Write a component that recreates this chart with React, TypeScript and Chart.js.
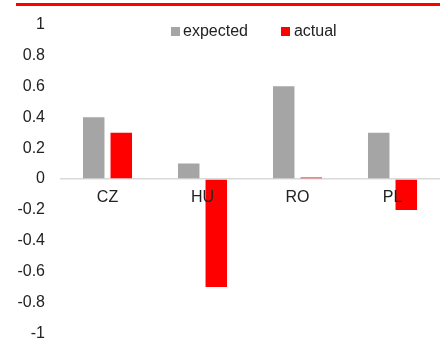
import React, { useEffect, useRef } from "react";
import { Chart, registerables } from "chart.js";

Chart.register(...registerables);

const categories = ["CZ", "HU", "RO", "PL"];
const expectedValues = [0.4, 0.1, 0.6, 0.3];
const actualValues = [0.3, -0.7, 0.01, -0.2];
const seriesNames = ["expected", "actual"];
const seriesColors = ["#A5A5A5", "#FF0000"];
const yMin = -1;
const yMax = 1;
const yStep = 0.2;

const FONT = '"Liberation Sans", Arial, Helvetica, sans-serif';
const TEXT = "#222222";

export default function App() {
  const ref = useRef<HTMLCanvasElement>(null);

  useEffect(() => {
    if (!ref.current) return;
    const chart = new Chart(ref.current, {
      type: "bar",
      data: {
        labels: categories,
        datasets: [
          {
            label: seriesNames[0],
            data: expectedValues,
            backgroundColor: seriesColors[0],
            categoryPercentage: 0.58,
            barPercentage: 0.78,
          },
          {
            label: seriesNames[1],
            data: actualValues,
            backgroundColor: seriesColors[1],
            categoryPercentage: 0.58,
            barPercentage: 0.78,
          },
        ],
      },
      options: {
        animation: false,
        responsive: false,
        maintainAspectRatio: false,
        layout: { padding: { top: 8, right: 0, bottom: 0, left: 0 } },
        plugins: {
          legend: { display: false },
          tooltip: { enabled: false },
        },
        scales: {
          x: {
            position: { y: 0 },
            grid: { display: false, drawTicks: false },
            border: { display: false },
            ticks: {
              z: 1,
              color: TEXT,
              font: { family: FONT, size: 16 },
              padding: 9,
            },
          },
          y: {
            min: yMin,
            max: yMax,
            grid: {
              color: (ctx: any) =>
                ctx.tick && Math.abs(ctx.tick.value) < 1e-9 ? "#D9D9D9" : "rgba(0,0,0,0)",
              lineWidth: 1.5,
              drawTicks: false,
            },
            border: { display: false },
            ticks: {
              stepSize: yStep,
              color: TEXT,
              font: { family: FONT, size: 16 },
              padding: 15,
              callback: (v: any) => String(Number(Number(v).toFixed(1))),
            },
            afterFit: (s: any) => {
              s.width = 60;
            },
          },
        },
      },
    });
    return () => chart.destroy();
  }, []);

  return (
    <div style={{ position: "fixed", left: 0, top: 0, width: 440, height: 358, background: "#fff" }}>
      <canvas ref={ref} width={440} height={358} style={{ display: "block" }} />
      <div style={{ position: "absolute", left: 16, top: 3, width: 424, height: 3, background: "#FF0000" }} />
      <div
        style={{
          position: "absolute",
          left: 171,
          top: 21,
          display: "flex",
          alignItems: "center",
          fontFamily: FONT,
          fontSize: 16,
          color: TEXT,
          lineHeight: "20px",
        }}
      >
        <span style={{ width: 9, height: 9, background: seriesColors[0], marginRight: 3, display: "inline-block" }} />
        <span style={{ marginRight: 33 }}>{seriesNames[0]}</span>
        <span style={{ width: 9, height: 9, background: seriesColors[1], marginRight: 4, display: "inline-block" }} />
        <span>{seriesNames[1]}</span>
      </div>
    </div>
  );
}
